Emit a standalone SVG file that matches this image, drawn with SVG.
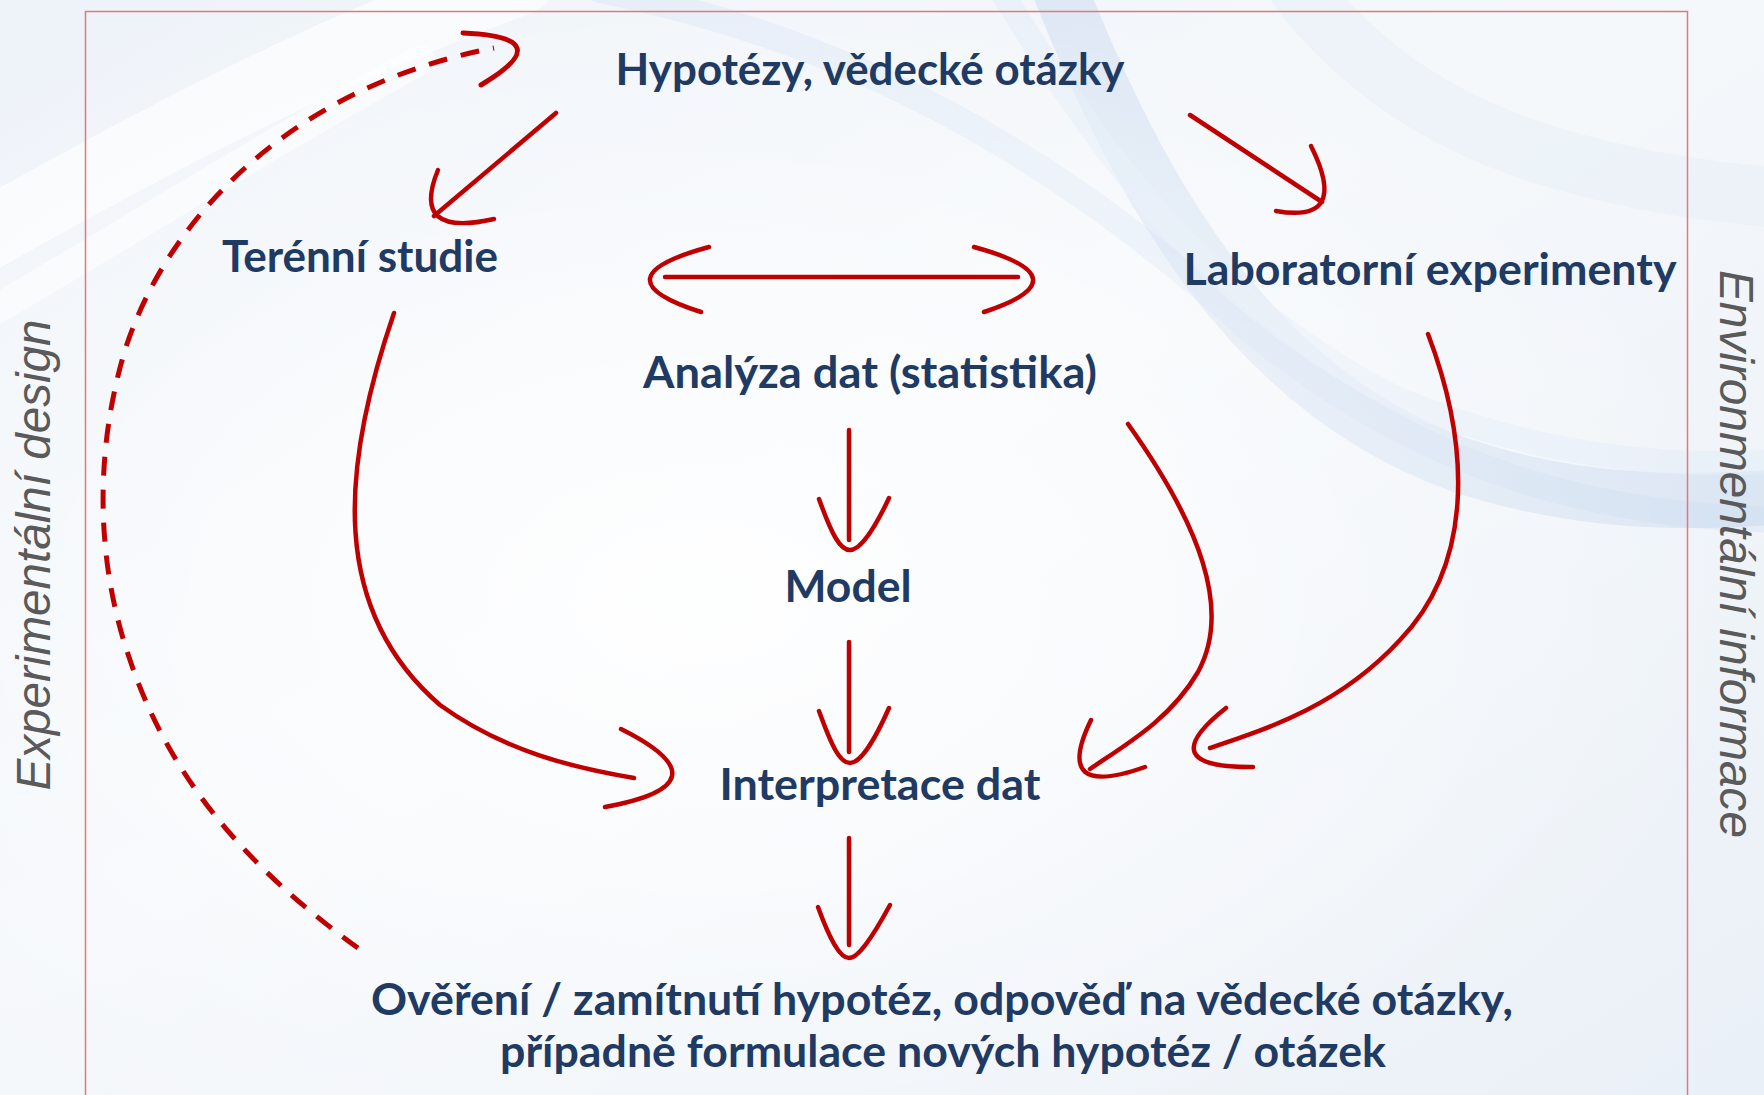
<svg xmlns="http://www.w3.org/2000/svg" width="1764" height="1095" viewBox="0 0 1764 1095">
<defs>
<linearGradient id="bg" x1="0" y1="0" x2="1" y2="1">
<stop offset="0" stop-color="#eef3f9"/>
<stop offset="0.45" stop-color="#f5f8fb"/>
<stop offset="1" stop-color="#eaf0f7"/>
</linearGradient>
<radialGradient id="glow" cx="0.4" cy="0.55" r="0.6">
<stop offset="0" stop-color="#ffffff" stop-opacity="0.9"/>
<stop offset="1" stop-color="#ffffff" stop-opacity="0"/>
</radialGradient>
<style>
.lbl{font-family:Lato,"Open Sans","Liberation Sans",sans-serif;font-weight:700;fill:#1f3a63;text-anchor:middle;font-size:44px}
.side{font-family:"Liberation Sans",Arial,sans-serif;font-style:italic;fill:#5a5a5a;font-size:48px;text-anchor:middle}
.arr{fill:none;stroke:#c00000;stroke-width:4.5;stroke-linecap:round;stroke-linejoin:round}
.dash{fill:none;stroke:#c00000;stroke-width:5;stroke-dasharray:19 14}
.wave{fill:none;stroke-linecap:round}
</style>
</defs>
<rect width="1764" height="1095" fill="url(#bg)"/>
<g id="background-waves">
<path class="wave" d="M-40,250 C120,160 300,60 520,-20" stroke="#ffffff" stroke-width="70" opacity="0.6"/>
<path class="wave" d="M-40,330 C100,250 240,160 420,60" stroke="#ffffff" stroke-width="30" opacity="0.5"/>
<path class="wave" d="M600,-10 C850,40 1050,150 1250,330 C1420,470 1600,520 1800,520" stroke="#d6e4f3" stroke-width="26" opacity="0.45"/>
<path class="wave" d="M1060,-10 C1140,190 1250,390 1460,465 C1580,505 1690,505 1800,495" stroke="#bdd3ec" stroke-width="55" opacity="0.4"/>
<path class="wave" d="M1000,-10 C1100,150 1200,300 1400,400 C1550,460 1680,470 1800,460" stroke="#e2ecf7" stroke-width="24" opacity="0.6"/>
<path class="wave" d="M1300,-10 C1400,120 1550,180 1800,200" stroke="#e4edf7" stroke-width="60" opacity="0.45"/>
</g>
<rect width="1764" height="1095" fill="url(#glow)"/>
<rect id="frame" x="85.5" y="11.5" width="1602" height="1120" fill="none" stroke="#e07a7a" stroke-width="1.5"/>

<g id="connectors">
<!-- Hypotezy -> Terenni studie -->
<path class="arr" d="M556,113 L434,216"/>
<path class="arr" d="M438,170 Q410,238 494,219"/>
<!-- Hypotezy -> Laboratorni -->
<path class="arr" d="M1190,115 L1322,202"/>
<path class="arr" d="M1311,146 Q1350,224 1276,211"/>
<!-- double arrow -->
<path class="arr" d="M665,277 L1018,277"/>
<path class="arr" d="M709,247 Q595,278 701,312"/>
<path class="arr" d="M974,247 Q1087,278 984,312"/>
<!-- Analyza -> Model -->
<path class="arr" d="M849,430 L849,540"/>
<path class="arr" d="M819,499 C832,535 840,550 850,550 C860,550 874,530 889,498"/>
<!-- Model -> Interpretace -->
<path class="arr" d="M849,642 L849,752"/>
<path class="arr" d="M819,711 C832,747 840,763 850,763 C860,763 874,742 889,708"/>
<!-- Interpretace -> Overeni -->
<path class="arr" d="M849,838 L849,945"/>
<path class="arr" d="M818,907 C830,940 840,958 849,958 C858,958 872,938 890,905"/>
<!-- Terenni -> Interpretace -->
<path class="arr" d="M394,313 C340,470 330,610 440,705 C505,752 575,768 634,778"/>
<path class="arr" d="M621,729 Q731,784 605,807"/>
<!-- Analyza -> Interpretace -->
<path class="arr" d="M1128,424 C1200,525 1232,610 1198,672 C1170,720 1125,745 1090,769"/>
<path class="arr" d="M1091,720 Q1052,800 1145,767"/>
<!-- Laboratorni -> Interpretace -->
<path class="arr" d="M1428,334 C1472,450 1472,565 1400,640 C1340,705 1270,728 1210,748"/>
<path class="arr" d="M1226,708 Q1150,768 1253,767"/>
<!-- feedback dashed -->
<path class="dash" d="M358,948 C250,870 170,780 130,660 C95,560 95,450 125,350 C170,210 300,85 494,48"/>
<path class="arr" d="M463,33 Q562,37 481,85" style="stroke-width:5"/>
</g>

<g id="node-hypotezy"><text class="lbl" x="870" y="85" textLength="509" lengthAdjust="spacingAndGlyphs">Hypotézy, vědecké otázky</text></g>
<g id="node-terenni"><text class="lbl" x="360" y="272" textLength="276" lengthAdjust="spacingAndGlyphs">Terénní studie</text></g>
<g id="node-laboratorni"><text class="lbl" x="1430" y="285" textLength="493" lengthAdjust="spacingAndGlyphs">Laboratorní experimenty</text></g>
<g id="node-analyza"><text class="lbl" x="870" y="388" textLength="454" lengthAdjust="spacingAndGlyphs">Analýza dat (statistika)</text></g>
<g id="node-model"><text class="lbl" x="848" y="602" textLength="127" lengthAdjust="spacingAndGlyphs">Model</text></g>
<g id="node-interpretace"><text class="lbl" x="880" y="800" textLength="321" lengthAdjust="spacingAndGlyphs">Interpretace dat</text></g>
<g id="node-overeni">
<text class="lbl" x="942" y="1015" textLength="1142" lengthAdjust="spacingAndGlyphs">Ověření / zamítnutí hypotéz, odpověď na vědecké otázky,</text>
<text class="lbl" x="943" y="1067" textLength="886" lengthAdjust="spacingAndGlyphs">případně formulace nových hypotéz / otázek</text>
</g>
<g id="side-left"><text class="side" transform="translate(50,555) rotate(-90)" x="0" y="0" textLength="471" lengthAdjust="spacingAndGlyphs">Experimentální design</text></g>
<g id="side-right"><text class="side" transform="translate(1720,554) rotate(90)" x="0" y="0" textLength="568" lengthAdjust="spacingAndGlyphs">Environmentální informace</text></g>
</svg>
